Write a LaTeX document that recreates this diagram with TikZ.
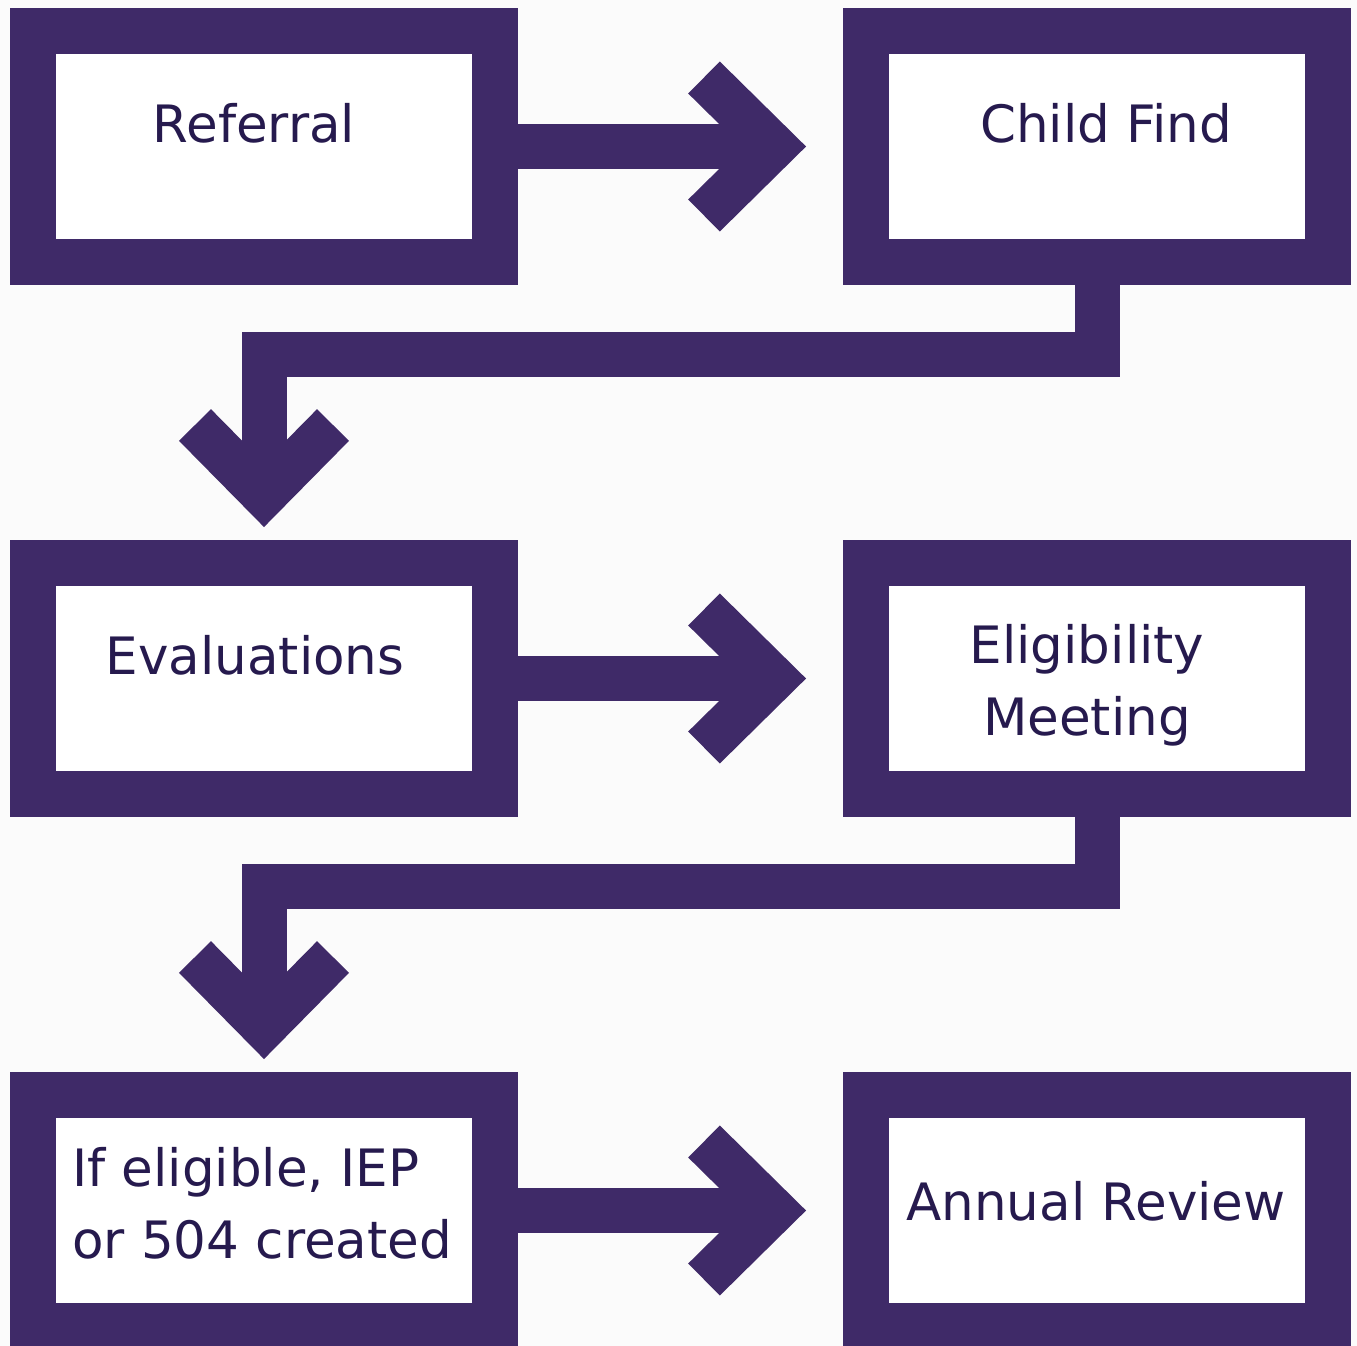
\documentclass[tikz,border=0pt]{standalone}
\usepackage{fontspec}
\setmainfont{DejaVu Sans}
\usetikzlibrary{calc}
\definecolor{flowpurple}{RGB}{63,42,104}
\definecolor{flowtext}{RGB}{38,26,78}
\definecolor{paper}{RGB}{251,251,251}
\begin{document}
\begin{tikzpicture}[x=1pt,y=-1pt,
  stagebox/.style={draw=flowpurple,fill=white,line width=46pt,rectangle,
    minimum width=462pt,minimum height=231pt,inner sep=0pt},
  shaft/.style={draw=flowpurple,line width=45pt,line cap=butt,line join=miter},
  chevron/.style={draw=flowpurple,line width=45pt,line cap=butt,line join=miter,miter limit=4},
  label/.style={text=flowtext,font=\fontsize{51.5}{72}\selectfont,inner sep=0pt}]
  % page
  \fill[paper] (0,0) rectangle (1357,1346);
  \useasboundingbox (0,0) rectangle (1357,1346);

  % stage boxes
  \node[stagebox] (referral)   at (264,146.5)  {};
  \node[stagebox] (childfind)  at (1097,146.5) {};
  \node[stagebox] (evals)      at (264,678.5)  {};
  \node[stagebox] (meeting)    at (1097,678.5) {};
  \node[stagebox] (created)    at (264,1210.5) {};
  \node[stagebox] (review)     at (1097,1210.5){};

  % box texts (multi-line nodes sit on the baseline of their last line)
  \node[label,anchor=base] (tReferral) at (254,142) {Referral};
  \node[label,anchor=base] (tChild) at (1106,142) {Child Find};
  \node[label,anchor=base] (tEval) at (255,674) {Evaluations};
  \node[label,anchor=base,align=center] (tMeet) at (1087,735) {Eligibility\\Meeting};
  \node[label,anchor=base west,align=left] (tCreated) at (72,1258) {If eligible, IEP\\or 504 created};
  \node[label,anchor=base] (tReview) at (1096,1220) {Annual Review};

  % arrow tips (stroke vertex of each chevron)
  \coordinate (tipA) at ($(childfind.west)+(-69,0)$);
  \coordinate (tipB) at ($(meeting.west)+(-69,0)$);
  \coordinate (tipC) at ($(review.west)+(-69,0)$);
  \coordinate (tipD) at ($(evals.north)+(0,-45)$);
  \coordinate (tipE) at ($(created.north)+(0,-45)$);

  % horizontal connectors
  \foreach \src/\tip in {referral/tipA, evals/tipB, created/tipC}{
    \draw[shaft] (\src.east) -- (\tip);
    \draw[chevron] ($(\tip)+(-70,-69)$) -- (\tip) -- ($(\tip)+(-70,69)$);
  }

  % elbow connectors down to the next row
  \foreach \src/\tip in {childfind/tipD, meeting/tipE}{
    \draw[shaft] (\src.south) -- ++(0,69.5) -| (\tip);
    \draw[chevron] ($(\tip)+(-69,-70)$) -- (\tip) -- ($(\tip)+(69,-70)$);
  }
\end{tikzpicture}
\end{document}
